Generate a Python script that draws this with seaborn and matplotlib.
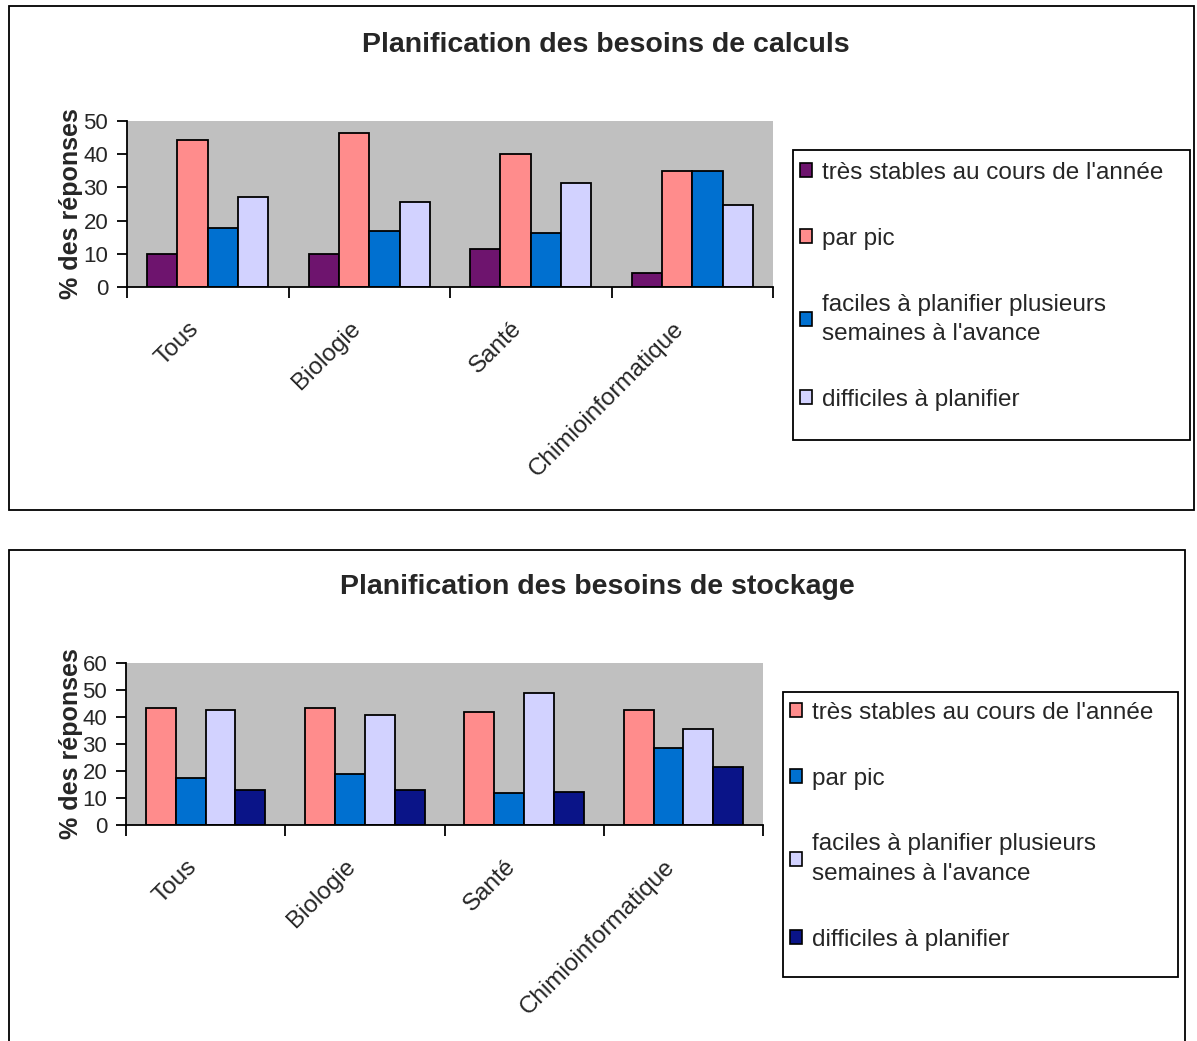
import matplotlib
matplotlib.use("Agg")
import matplotlib.pyplot as plt
import matplotlib.patches as mpatches
from matplotlib.ticker import FixedLocator, NullFormatter
from matplotlib.transforms import ScaledTranslation
import seaborn as sns
import pandas as pd

# ---------------- data ----------------
categories = ["Tous", "Biologie", "Santé", "Chimioinformatique"]
series = ["très stables au cours de l'année", "par pic",
          "faciles à planifier plusieurs semaines à l'avance",
          "difficiles à planifier"]
legend_labels = ["très stables au cours de l'année", "par pic",
                 "faciles à planifier plusieurs\nsemaines à l'avance",
                 "difficiles à planifier"]

calc_stables = [10, 10, 11.3, 4.2]
calc_pic = [44.2, 46.4, 40, 35]
calc_faciles = [17.8, 17, 16.3, 35]
calc_difficiles = [27.1, 25.7, 31.4, 24.8]

stock_stables = [43.5, 43.5, 41.8, 42.5]
stock_pic = [17.4, 19, 12, 28.6]
stock_faciles = [42.5, 40.7, 48.8, 35.6]
stock_difficiles = [13, 13, 12.1, 21.6]

calc_yticks = [0, 10, 20, 30, 40, 50]
stock_yticks = [0, 10, 20, 30, 40, 50, 60]

title_calc = "Planification des besoins de calculs"
title_stock = "Planification des besoins de stockage"
ylabel = "% des réponses"

colors_calc = ["#6E146E", "#FF8C8C", "#0070D0", "#D2D2FF"]
colors_stock = ["#FF8C8C", "#0070D0", "#D2D2FF", "#0A1488"]


def long_df(vals):
    rows = []
    for s, v in zip(series, vals):
        for c, x in zip(categories, v):
            rows.append({"cat": c, "serie": s, "val": x})
    return pd.DataFrame(rows)


df_calc = long_df([calc_stables, calc_pic, calc_faciles, calc_difficiles])
df_stock = long_df([stock_stables, stock_pic, stock_faciles, stock_difficiles])

sns.set_theme(style="white")
plt.rcParams["font.family"] = ["Liberation Sans", "DejaVu Sans"]

W, H = 1197, 1041
fig = plt.figure(figsize=(W / 100, H / 100), dpi=100)


def fx(px):
    return px / W


def fy(py):
    return 1 - py / H


def add_box(x0, y0, x1, y1):
    fig.patches.append(mpatches.Rectangle((fx(x0), fy(y1)), fx(x1) - fx(x0), fy(y0) - fy(y1),
                                          transform=fig.transFigure, fill=False,
                                          edgecolor="black", linewidth=1.3, zorder=0))


def draw(df, colors, yticks, ax_px, title, title_xy, leg_box, leg_anchor, width):
    x0, y0, x1, y1 = ax_px
    ax = fig.add_axes([fx(x0), fy(y1), fx(x1) - fx(x0), fy(y0) - fy(y1)])
    sns.barplot(data=df, x="cat", y="val", hue="serie", hue_order=series, order=categories,
                palette=colors, width=width, gap=0, edgecolor="black", linewidth=1.3,
                saturation=1, legend=False, ax=ax, errorbar=None)
    ax.set_facecolor("#C0C0C0")
    ax.set_xlim(-0.5, len(categories) - 0.5)
    ax.set_ylim(yticks[0], yticks[-1])
    ax.set_yticks(yticks)
    ax.set_xlabel("")
    ax.set_ylabel(ylabel, fontsize=18, fontweight="bold", labelpad=0)
    ax.yaxis.set_label_coords(-0.068, 0.5)
    for s in ["top", "right"]:
        ax.spines[s].set_visible(False)
    for s in ["left", "bottom"]:
        ax.spines[s].set_color("black")
        ax.spines[s].set_linewidth(1.3)
    ax.tick_params(axis="y", direction="out", length=7.5, width=1.3, color="black",
                   labelsize=16, pad=6, left=True)
    ax.tick_params(axis="x", which="major", length=0, labelsize=17.5, pad=22)
    ax.xaxis.set_minor_locator(FixedLocator([i - 0.5 for i in range(len(categories) + 1)]))
    ax.xaxis.set_minor_formatter(NullFormatter())
    ax.tick_params(axis="x", which="minor", direction="out", length=8, width=1.3,
                   color="black", bottom=True)
    shift = ScaledTranslation(-0.2, 0, fig.dpi_scale_trans)
    for lab in ax.get_xticklabels():
        lab.set_rotation(45)
        lab.set_ha("right")
        lab.set_va("top")
        lab.set_rotation_mode("anchor")
        lab.set_transform(lab.get_transform() + shift)
    fig.text(fx(title_xy[0]), fy(title_xy[1]), title, ha="center", va="center",
             fontsize=20.5, fontweight="bold")
    add_box(*leg_box)
    handles = [mpatches.Patch(facecolor=c, edgecolor="black", linewidth=1.2) for c in colors]
    leg = fig.legend(handles, legend_labels, loc="upper left",
                     bbox_to_anchor=(fx(leg_anchor[0]), fy(leg_anchor[1])),
                     frameon=False, fontsize=17.5, handlelength=0.5, handleheight=0.5,
                     handletextpad=0.4, labelspacing=1.8, borderpad=0, borderaxespad=0)
    for t in leg.get_texts():
        t.set_linespacing(1.45)
    return ax


add_box(9, 6, 1194, 510)
add_box(9, 550, 1185, 1050)

draw(df_calc, colors_calc, calc_yticks, (127, 121, 773, 287), title_calc, (606, 45),
     (793, 150, 1190, 440), (800, 162), 0.75)
draw(df_stock, colors_stock, stock_yticks, (126, 663, 763, 825), title_stock, (597, 587),
     (783, 692, 1178, 977), (790, 702), 0.75)

fig.savefig("out.png", dpi=100)
